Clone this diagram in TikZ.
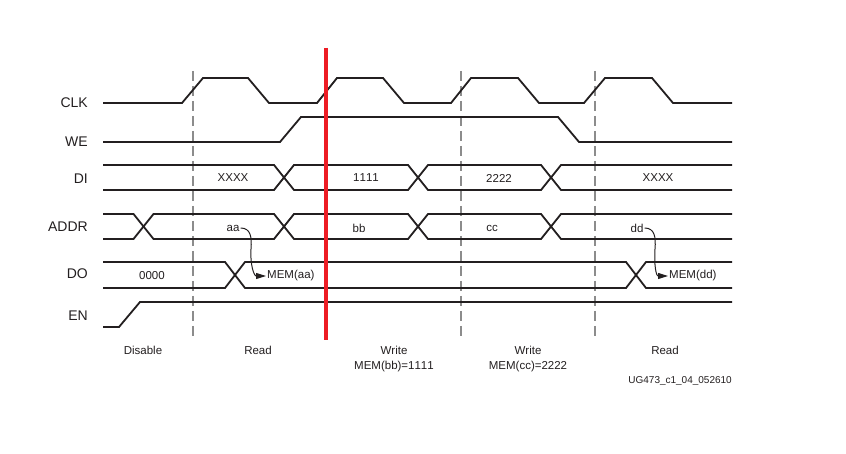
\documentclass[tikz,border=0pt]{standalone}
\usepackage{fontspec}
\setmainfont[Kerning=Off]{Liberation Sans}
\usetikzlibrary{arrows.meta}
\definecolor{sig}{HTML}{231F20}
\definecolor{guide}{HTML}{8C8C8C}
\definecolor{marker}{HTML}{ED1C24}
\begin{document}
\begin{tikzpicture}[x=1pt,y=-1pt,
  wave/.style={draw=sig,line width=1.8pt,line join=miter},
  guideline/.style={draw=guide,line width=1.5pt,dash pattern=on 10pt off 5pt},
  redmark/.style={draw=marker,line width=4.5pt},
  siglabel/.style={font=\fontsize{14}{16}\selectfont,text=sig,anchor=east,inner sep=0pt},
  datalabel/.style={font=\fontsize{11.5}{13}\selectfont,text=sig,inner sep=1pt},
  phaselabel/.style={font=\fontsize{11.5}{15}\selectfont,text=sig,anchor=north,align=center,inner sep=0pt},
  curvearrow/.style={draw=sig,line width=1pt,-{Triangle[length=10pt,width=6pt]}}]
\useasboundingbox[fill=white] (0,0) rectangle (846,454);

% guide lines
\draw[guideline] (193,71) -- (193,336);
\draw[guideline] (461,71) -- (461,336);
\draw[guideline] (595,71) -- (595,336);

% signal names
\node[siglabel] (lclk) at (88,103) {CLK};
\node[siglabel] (lwe) at (88,142) {WE};
\node[siglabel] (ldi) at (88,179) {DI};
\node[siglabel] (laddr) at (88,226.5) {ADDR};
\node[siglabel] (ldo) at (88,274) {DO};
\node[siglabel] (len) at (88,316) {EN};

% CLK
\draw[wave] (103,103) -- (182,103) -- (203,78) -- (248,78) -- (269,103)
  -- (317,103) -- (337,78) -- (383,78) -- (404,103)
  -- (451,103) -- (471,78) -- (518,78) -- (539,103)
  -- (584,103) -- (605,78) -- (652,78) -- (673,103) -- (732,103);

% WE
\draw[wave] (103,142) -- (280,142) -- (301,117) -- (558,117) -- (579,142) -- (732,142);

% DI bus (top 165, bottom 190, crossings 284, 418, 551)
\draw[wave] (103,165) -- (274,165) -- (284,177.5) -- (274,190) -- (103,190);
\draw[wave] (284,177.5) -- (294,165) -- (408,165) -- (418,177.5) -- (408,190) -- (294,190) -- cycle;
\draw[wave] (418,177.5) -- (428,165) -- (541,165) -- (551,177.5) -- (541,190) -- (428,190) -- cycle;
\draw[wave] (732,165) -- (561,165) -- (551,177.5) -- (561,190) -- (732,190);

% ADDR bus (top 214, bottom 239, crossings 143.5, 284, 418, 551)
\draw[wave] (103,214) -- (133.5,214) -- (143.5,226.5) -- (133.5,239) -- (103,239);
\draw[wave] (143.5,226.5) -- (153.5,214) -- (274,214) -- (284,226.5) -- (274,239) -- (153.5,239) -- cycle;
\draw[wave] (284,226.5) -- (294,214) -- (408,214) -- (418,226.5) -- (408,239) -- (294,239) -- cycle;
\draw[wave] (418,226.5) -- (428,214) -- (541,214) -- (551,226.5) -- (541,239) -- (428,239) -- cycle;
\draw[wave] (732,214) -- (561,214) -- (551,226.5) -- (561,239) -- (732,239);

% DO bus (top 262, bottom 288, crossings 235, 636)
\draw[wave] (103,262) -- (225,262) -- (235,275) -- (225,288) -- (103,288);
\draw[wave] (235,275) -- (245,262) -- (626,262) -- (636,275) -- (626,288) -- (245,288) -- cycle;
\draw[wave] (732,262) -- (646,262) -- (636,275) -- (646,288) -- (732,288);

% EN
\draw[wave] (103,327) -- (119,327) -- (140,302) -- (732,302);

% data labels
\node[datalabel] (dx1) at (233,178) {XXXX};
\node[datalabel] (d1111) at (366,178) {1111};
\node[datalabel] (d2222) at (499,178) {2222};
\node[datalabel] (dx2) at (658,178) {XXXX};
\node[datalabel] (aa) at (233,228) {aa};
\node[datalabel] (bb) at (359,228) {bb};
\node[datalabel] (cc) at (492,228) {cc};
\node[datalabel] (dd) at (637,228) {dd};
\node[datalabel] (d0000) at (152,276) {0000};
\node[datalabel,anchor=west] (memaa) at (266,276) {MEM(aa)};
\node[datalabel,anchor=west] (memdd) at (668,276) {MEM(dd)};

\coordinate (ca) at (251,249);
\coordinate (cd) at (655,249);
\draw[curvearrow] (aa.east) .. controls +(10,0) and +(1,-12) .. (ca)
  .. controls +(-1,16) and +(-12,0) .. (memaa.west);
\draw[curvearrow] (dd.east) .. controls +(10,0) and +(1,-12) .. (cd)
  .. controls +(-1,16) and +(-12,0) .. (memdd.west);

% red marker
\draw[redmark] (326,48) -- (326,340);

% phase labels
\node[phaselabel] (pdis) at (143,346) {Disable};
\node[phaselabel] (pread1) at (258,346) {Read};
\node[phaselabel] (pw1) at (394,346) {Write\\MEM(bb)=1111};
\node[phaselabel] (pw2) at (528,346) {Write\\MEM(cc)=2222};
\node[phaselabel] (pread2) at (665,346) {Read};
\node[font=\fontsize{10}{12}\selectfont,text=sig,anchor=east,inner sep=0pt] (fig) at (732,381) {UG473\_c1\_04\_052610};
\end{tikzpicture}
\end{document}
